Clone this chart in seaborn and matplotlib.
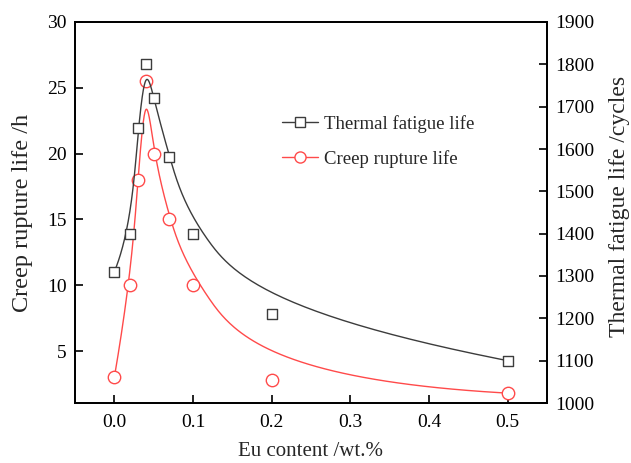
import numpy as np
import pandas as pd
import matplotlib
matplotlib.use("Agg")
import matplotlib.pyplot as plt
from matplotlib.lines import Line2D
import seaborn as sns

# Eu content (wt.%) and the two measured properties
eu_content = [0.0, 0.02, 0.03, 0.04, 0.05, 0.07, 0.10, 0.20, 0.50]
fatigue_cycles = [1310, 1400, 1650, 1800, 1720, 1580, 1400, 1210, 1100]
creep_hours = [3.0, 10.0, 18.0, 25.5, 20.0, 15.0, 10.0, 2.8, 1.8]

x_ticks = [0.0, 0.1, 0.2, 0.3, 0.4, 0.5]
creep_ticks = [5, 10, 15, 20, 25, 30]
fatigue_ticks = [1000, 1100, 1200, 1300, 1400, 1500, 1600, 1700, 1800, 1900]

GREY = "#3c3c3c"
RED = "#ff4a4a"


def bspline(xc, yc, degree=3, n=500):
    """Clamped uniform B-spline using the data points as control points."""
    xc = np.asarray(xc, float)
    yc = np.asarray(yc, float)
    m = len(xc)
    knots = np.concatenate([[0.0] * degree,
                            np.linspace(0, 1, m - degree + 1),
                            [1.0] * degree])
    t = np.linspace(0, 1, n)
    N = np.zeros((n, len(knots) - 1))
    for i in range(len(knots) - 1):
        N[:, i] = (knots[i] <= t) & (t < knots[i + 1])
    N[t >= 1.0, :] = 0
    N[t >= 1.0, m - 1] = 1
    for k in range(1, degree + 1):
        Nn = np.zeros((n, len(knots) - 1 - k))
        for i in range(len(knots) - 1 - k):
            d1 = knots[i + k] - knots[i]
            d2 = knots[i + k + 1] - knots[i + 1]
            a = (t - knots[i]) / d1 * N[:, i] if d1 > 0 else 0
            b = (knots[i + k + 1] - t) / d2 * N[:, i + 1] if d2 > 0 else 0
            Nn[:, i] = a + b
        N = Nn
    return N @ xc, N @ yc


sns.set_theme(style="ticks")
plt.rcParams["font.family"] = ["Liberation Serif", "DejaVu Serif"]

fig = plt.figure(figsize=(6.31, 4.63), dpi=100)
ax = fig.add_axes([75 / 631, 1 - 403 / 463, 472 / 631, 381 / 463])
ax2 = ax.twinx()

creep_pts = pd.DataFrame({"x": eu_content, "y": creep_hours})
fat_pts = pd.DataFrame({"x": eu_content, "y": fatigue_cycles})
cx, cy = bspline(eu_content, creep_hours)
fx, fy = bspline(eu_content, fatigue_cycles)
creep_curve = pd.DataFrame({"x": cx, "y": cy})
fat_curve = pd.DataFrame({"x": fx, "y": fy})

sns.lineplot(data=creep_curve, x="x", y="y", ax=ax, color=RED, lw=1.0,
             sort=False, estimator=None)
sns.scatterplot(data=creep_pts, x="x", y="y", ax=ax, marker="o", s=80,
                facecolor="white", edgecolor=RED, linewidth=1.0, zorder=3)

sns.lineplot(data=fat_curve, x="x", y="y", ax=ax2, color=GREY, lw=1.0,
             sort=False, estimator=None)
sns.scatterplot(data=fat_pts, x="x", y="y", ax=ax2, marker="s", s=55,
                facecolor="white", edgecolor=GREY, linewidth=1.0, zorder=3)

ax.set_xlim(-0.05, 0.55)
ax.set_ylim(1.05, 30)
ax2.set_ylim(1000, 1900)
ax.set_xticks(x_ticks)
ax.set_xticklabels([f"{v:.1f}" for v in x_ticks])
ax.set_yticks(creep_ticks)
ax2.set_yticks(fatigue_ticks)

for a in (ax, ax2):
    for s in a.spines.values():
        s.set_linewidth(1.3)
        s.set_color("black")
    a.tick_params(direction="in", length=6, width=1.2, labelsize=14,
                  colors="black", pad=6)
ax.tick_params(axis="x", pad=8)
ax.tick_params(top=False)

ax.set_xlabel("Eu content /wt.%", fontsize=15, labelpad=8)
ax.set_ylabel("Creep rupture life /h", fontsize=17.5, labelpad=10)
ax2.set_ylabel("Thermal fatigue life /cycles", fontsize=17, labelpad=12)
ax2.yaxis.set_label_coords(1.131, 0.515)

handles = [
    Line2D([], [], color=GREY, lw=1.0, marker="s", markersize=7,
           markerfacecolor="white", markeredgecolor=GREY),
    Line2D([], [], color=RED, lw=1.0, marker="o", markersize=8,
           markerfacecolor="white", markeredgecolor=RED),
]
ax.legend(handles, ["Thermal fatigue life", "Creep rupture life"],
          loc="upper left", bbox_to_anchor=(265 / 631, 1 - 98 / 463),
          bbox_transform=fig.transFigure, frameon=False, fontsize=13.5,
          handlelength=1.9, labelspacing=0.92, handletextpad=0.37)

fig.savefig("out.png", dpi=100)
